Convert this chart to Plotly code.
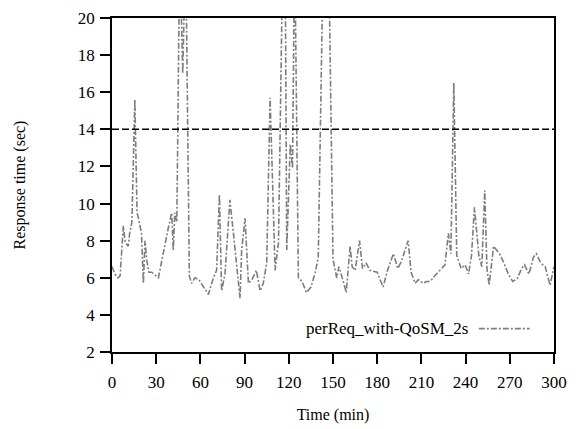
import plotly.graph_objects as go

# response time per request (values above 20 are clipped by the axis)
time_min = [0, 2, 4, 5.5, 7.7, 9, 11, 12, 13.5, 15.5, 17, 18, 20, 21.3, 22.4, 23.5, 25, 27,
            31.5, 35, 38, 40.5, 41.6, 42.6, 44, 46, 48, 50, 52.5, 54, 56.3, 59, 62, 65.4,
            68.8, 71, 72.9, 74.4, 76.7, 78, 80, 82.4, 84.5, 86.9, 88, 90.3, 92.6, 95, 98,
            100.5, 102.7, 105, 107.3, 110.7, 113, 116, 117.5, 118.6, 121, 122.5, 124,
            126.5, 129, 132, 135, 138, 140, 143.5, 147, 150, 152.5, 154, 157, 159, 161.6,
            163, 165, 168, 170, 172.5, 175, 180, 184, 187, 191, 194, 196.5, 199, 201,
            203, 205.7, 208, 211, 213.5, 216, 219, 222.7, 226, 228.3, 230, 232, 234, 237,
            239.7, 242, 244, 246, 249, 251, 253, 254.5, 256, 259, 263, 266, 269, 272,
            275, 278, 280, 283, 286, 288, 291, 294, 297.3, 300]
resp_sec = [6.6, 6.2, 6.0, 6.1, 8.8, 7.9, 7.7, 8.4, 9.0, 15.6, 9.5, 9.2, 8.4, 5.7, 8.0, 7.0, 6.3, 6.3,
            6.0, 7.5, 8.6, 9.5, 7.5, 9.5, 9.0, 24, 17, 24, 6.1, 5.7, 6.0, 5.9, 5.5, 5.1,
            6.0, 6.4, 10.5, 5.3, 6.2, 7.6, 10.2, 8.4, 6.8, 4.9, 7.5, 9.2, 5.7, 5.9, 6.4,
            5.3, 5.7, 6.8, 15.7, 6.4, 7.9, 24, 24, 7.5, 13.2, 11.9, 24,
            6.0, 5.8, 5.2, 5.5, 6.3, 7.1, 24, 24, 7.0, 6.0, 6.6, 5.8, 5.2, 7.7,
            6.6, 6.4, 8.0, 6.5, 6.8, 6.4, 6.3, 5.5, 6.4, 7.3, 6.5, 6.9, 7.5, 8.0,
            6.3, 5.7, 5.9, 5.7, 5.8, 5.8, 6.1, 6.4, 6.7, 8.4, 7.3, 16.5, 7.2, 6.5,
            6.7, 6.2, 7.2, 9.8, 7.2, 6.6, 10.7, 6.5, 5.6, 7.7, 7.3, 6.8, 6.2, 5.8,
            5.95, 6.5, 6.7, 6.2, 7.1, 7.3, 6.8, 6.6, 5.6, 6.6]

sla_time = [0, 300]
sla_sec = [14, 14]

serif = "Liberation Serif, Times New Roman, serif"
grey = "#7d7d7d"

fig = go.Figure()
fig.add_trace(go.Scatter(x=time_min, y=resp_sec, mode="lines", name="perReq_with-QoSM_2s",
                         line=dict(color=grey, width=1.6, dash="6px,2px,2px,2px"),
                         showlegend=False))
fig.add_trace(go.Scatter(x=sla_time, y=sla_sec, mode="lines", showlegend=False,
                         line=dict(color="black", width=1.5, dash="7px,3px")))

# legend drawn by hand: text with the line sample on its right
fig.add_annotation(text="perReq_with-QoSM_2s", xref="paper", yref="paper",
                   x=0.81, y=0.07, xanchor="right", yanchor="middle", showarrow=False,
                   font=dict(family=serif, size=17, color="black"))
fig.add_shape(type="line", xref="paper", yref="paper", x0=0.83, x1=0.945, y0=0.07, y1=0.07,
              line=dict(color=grey, width=1.6, dash="6px,2px,2px,2px"))

axis_common = dict(showline=True, linecolor="black", linewidth=1.8, mirror=True,
                   ticks="outside", ticklen=10, tickwidth=1.8, tickcolor="black",
                   showgrid=False, zeroline=False, automargin=False,
                   tickfont=dict(family=serif, size=17, color="black"),
                   title_font=dict(family=serif, size=16, color="black"))

fig.update_xaxes(range=[0, 300], tickvals=list(range(0, 301, 30)), ticklabelstandoff=4,
                 title_text="Time (min)", title_standoff=18, **axis_common)
fig.update_yaxes(range=[2, 20], tickvals=list(range(2, 21, 2)), ticklabelstandoff=2,
                 title_text="Response time (sec)", title_standoff=48, **axis_common)

fig.update_layout(width=576, height=429, plot_bgcolor="white", paper_bgcolor="white",
                  margin=dict(l=104, r=30, t=10, b=85))

fig.write_html("out.html")
